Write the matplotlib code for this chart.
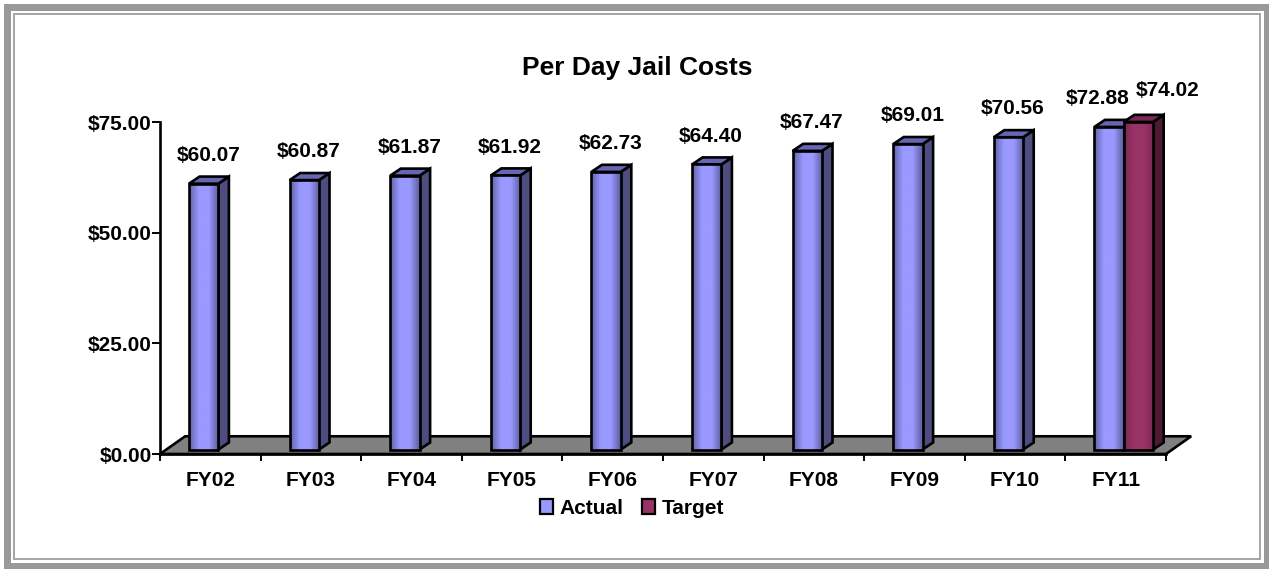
import matplotlib
matplotlib.use('AGG')
import matplotlib.pyplot as plt
import numpy as np
from matplotlib.colors import LinearSegmentedColormap
from matplotlib.patches import Polygon, Rectangle

years = ['FY02', 'FY03', 'FY04', 'FY05', 'FY06', 'FY07', 'FY08', 'FY09', 'FY10', 'FY11']
actual = [60.07, 60.87, 61.87, 61.92, 62.73, 64.40, 67.47, 69.01, 70.56, 72.88]
target = [None, None, None, None, None, None, None, None, None, 74.02]
yticks = [0, 25, 50, 75]

W, H = 1269, 569
FS = 15
LW = 1.9
plt.rcParams['font.family'] = ['Liberation Sans', 'DejaVu Sans']
plt.rcParams['font.weight'] = 'bold'

fig = plt.figure(figsize=(W / 100, H / 100), dpi=100)
fig.patch.set_facecolor('white')


def frame(x0, y0, x1, y1, color):
    fig.add_artist(Rectangle((x0 / W, 1 - y1 / H), (x1 - x0) / W, (y1 - y0) / H,
                             transform=fig.transFigure, facecolor=color, edgecolor='none', zorder=-5))


# double border
frame(4, 4, W, H, '#999999')
frame(11, 11, 1264, 563, 'white')
frame(13, 13, 1261, 560, '#a6a6a6')
frame(15, 15, 1259, 558, 'white')

left, right, top, bottom = 160, 1166, 122, 454
ax = fig.add_axes([left / W, 1 - bottom / H, (right - left) / W, (bottom - top) / H])
ax.set_xlim(0, len(years))
ax.set_ylim(0, 75)
ax.patch.set_alpha(0)

# floor of the 3d box
floor_dx, floor_dy = 0.25, 4.0
ax.add_patch(Polygon([(0, 0), (floor_dx, floor_dy), (len(years) + floor_dx, floor_dy), (len(years), 0)],
                     closed=True, facecolor='#808080', edgecolor='black', lw=LW, clip_on=False, zorder=1))

blue = LinearSegmentedColormap.from_list('b', ['#6262a8', '#9999ff', '#9999ff', '#5c5c9c'])
red = LinearSegmentedColormap.from_list('r', ['#7a2a52', '#993366', '#993366', '#7a2a52'])
grad = np.linspace(0, 1, 64).reshape(1, -1)

bar_w = 0.292
gap = 0.288
depth_x, depth_y = 0.105, 1.6
base = 1.0
label_up = 6.4


def bar3d(x, val, cmap, side, topc, z):
    y1 = base + val
    ax.add_patch(Polygon([(x + bar_w, base), (x + bar_w + depth_x, base + depth_y),
                          (x + bar_w + depth_x, y1 + depth_y), (x + bar_w, y1)],
                         closed=True, facecolor=side, edgecolor='black', lw=LW, zorder=z, clip_on=False))
    ax.add_patch(Polygon([(x, y1), (x + depth_x, y1 + depth_y), (x + bar_w + depth_x, y1 + depth_y), (x + bar_w, y1)],
                         closed=True, facecolor=topc, edgecolor='black', lw=LW, zorder=z, clip_on=False))
    ax.imshow(grad, cmap=cmap, extent=(x, x + bar_w, base, y1), aspect='auto', zorder=z + 0.1)
    ax.add_patch(Rectangle((x, base), bar_w, val, facecolor='none', edgecolor='black', lw=LW,
                           zorder=z + 0.2, clip_on=False))


for i, v in enumerate(actual):
    bar3d(i + gap, v, blue, '#4d4d80', '#6666b3', 2)
    shift = 0.19 if target[i] is None else 0.035
    ax.text(i + gap + shift, base + v + label_up, '$%.2f' % v, ha='center', va='center', fontsize=FS,
            color='black', zorder=6)

for i, v in enumerate(target):
    if v is not None:
        bar3d(i + gap + bar_w, v, red, '#4d1a33', '#7a2a52', 3)
        ax.text(i + gap + bar_w + 0.44, base + v + label_up + 0.6, '$%.2f' % v, ha='center', va='center',
                fontsize=FS, color='black', zorder=6)

ax.set_xlim(0, len(years))
ax.set_ylim(0, 75)

for s in ['top', 'right']:
    ax.spines[s].set_visible(False)
for s in ['left', 'bottom']:
    ax.spines[s].set_linewidth(LW)
    ax.spines[s].set_zorder(5)

ax.set_xticks(range(len(years) + 1))
ax.set_xticklabels([])
ax.set_xticks(np.arange(len(years)) + 0.5, years, minor=True)
ax.tick_params(axis='x', which='major', length=5, width=1.4, direction='out')
ax.tick_params(axis='x', which='minor', length=0, pad=12, labelsize=FS)
ax.set_yticks(yticks)
ax.set_yticklabels(['$%.2f' % t for t in yticks], fontsize=FS)
ax.tick_params(axis='y', length=6, width=1.4, pad=0)

fig.text(637 / W, 1 - 68 / H, 'Per Day Jail Costs', ha='center', va='center', fontsize=19, fontweight='bold')

handles = [Rectangle((0, 0), 1, 1, facecolor='#9999ff', edgecolor='black', lw=1.6),
           Rectangle((0, 0), 1, 1, facecolor='#993366', edgecolor='black', lw=1.6)]
fig.legend(handles, ['Actual', 'Target'], ncol=2, frameon=False, fontsize=FS,
           loc='center', bbox_to_anchor=(632 / W, 1 - 508 / H),
           handlelength=0.62, handleheight=0.7, handletextpad=0.3, columnspacing=0.9)

fig.savefig('out.png', dpi=100)
